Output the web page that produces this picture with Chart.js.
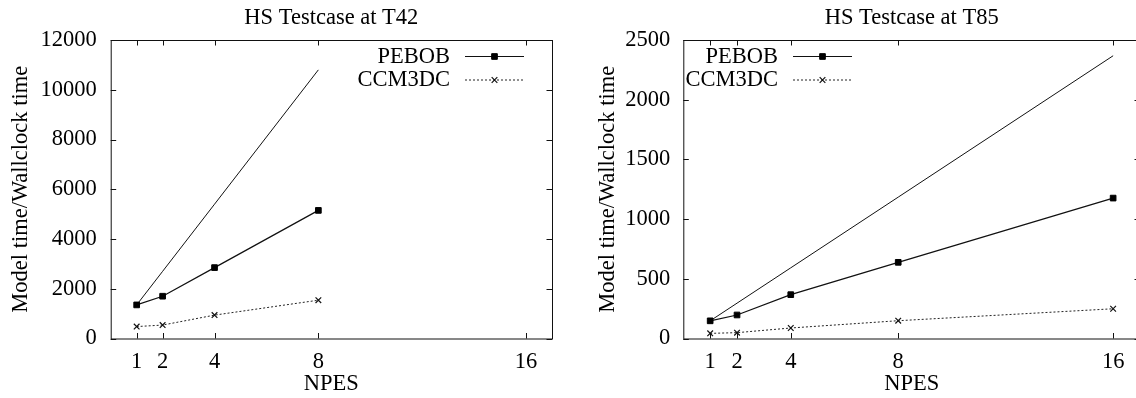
<!DOCTYPE html>
<html>
<head>
<meta charset="utf-8">
<script src="https://cdn.jsdelivr.net/npm/chart.js@4.4.1/dist/chart.umd.min.js"></script>
<style>
  html, body { margin: 0; padding: 0; background: #fff; overflow: hidden; width: 1136px; height: 398px; }
  .wrap { position: absolute; top: 0; height: 398px; }
  #w42 { left: 0; width: 568px; }
  #w85 { left: 580px; width: 576px; }
</style>
</head>
<body>
<div class="wrap" id="w42"><canvas id="chart-t42" width="568" height="398"></canvas></div>
<div class="wrap" id="w85"><canvas id="chart-t85" width="576" height="398"></canvas></div>
<script>
// values
const npesT42   = [1, 2, 4, 8];
const pebobT42  = [1350, 1700, 2850, 5150];
const ccm3dcT42 = [480, 540, 940, 1540];
const idealT42  = [1350, 2700, 5400, 10800];

const npesT85   = [1, 2, 4, 8, 16];
const pebobT85  = [148, 197, 367, 638, 1176];
const ccm3dcT85 = [43, 49, 88, 149, 249];
const idealT85  = [148, 296, 592, 1184, 2368];

const xTickValues = [1, 2, 4, 8, 16];

const FONT = "'Liberation Serif', 'Times New Roman', serif";
const FS = 22.5;

// gnuplot-ish frame with inward ticks on all four sides
const framePlugin = {
    id: "frame",
    afterDraw(chart) {
        const { ctx, chartArea: a, scales } = chart;
        const len = 5.5;
        ctx.save();
        ctx.strokeStyle = "#111";
        ctx.lineWidth = 1;
        ctx.strokeRect(a.left + 0.5, a.top + 0.5, a.right - a.left, a.bottom - a.top);
        ctx.beginPath();
        scales.x.ticks.forEach(t => {
            const px = Math.round(scales.x.getPixelForValue(t.value)) + 0.5;
            ctx.moveTo(px, a.bottom); ctx.lineTo(px, a.bottom - len);
            ctx.moveTo(px, a.top); ctx.lineTo(px, a.top + len);
        });
        scales.y.ticks.forEach(t => {
            const py = Math.round(scales.y.getPixelForValue(t.value)) + 0.5;
            ctx.moveTo(a.left, py); ctx.lineTo(a.left + len, py);
            ctx.moveTo(a.right, py); ctx.lineTo(a.right - len, py);
        });
        ctx.stroke();
        ctx.restore();
    },
};

// plot title centred over the plot area (gnuplot style)
const plotTitlePlugin = {
    id: "plotTitle",
    afterDraw(chart, args, opts) {
        const { ctx, chartArea: a } = chart;
        ctx.save();
        ctx.font = FS + "px " + FONT;
        ctx.fillStyle = "#000";
        ctx.textAlign = "center";
        ctx.textBaseline = "middle";
        ctx.fillText(opts.text, (a.left + a.right) / 2, opts.y);
        ctx.restore();
    },
};

// key drawn inside the plot area like gnuplot does
const keyPlugin = {
    id: "key",
    afterDraw(chart, args, opts) {
        const { ctx, chartArea: a } = chart;
        const textX = opts.side === "right" ? a.right - opts.fromEdge : a.left + opts.fromEdge;
        ctx.save();
        ctx.font = FS + "px " + FONT;
        ctx.textAlign = "right";
        ctx.textBaseline = "middle";
        chart.data.datasets.forEach(ds => {
            if (!ds.label) return;
            const y = a.top + opts.rows[ds.keyRow];
            ctx.fillStyle = "#000";
            ctx.fillText(ds.label, textX, y + 1);
            const x0 = textX + 15, x1 = textX + 74;
            ctx.save();
            ctx.strokeStyle = ds.borderColor;
            ctx.lineWidth = ds.borderWidth;
            ctx.setLineDash(ds.borderDash || []);
            ctx.beginPath();
            ctx.moveTo(x0, y + 0.5); ctx.lineTo(x1, y + 0.5);
            ctx.stroke();
            ctx.restore();
            ctx.fillStyle = ds.pointBackgroundColor;
            ctx.strokeStyle = ds.pointBorderColor;
            ctx.lineWidth = ds.pointBorderWidth;
            Chart.helpers.drawPoint(ctx, {
                pointStyle: ds.pointStyle,
                radius: ds.pointRadius,
                borderWidth: ds.pointBorderWidth,
                rotation: 0,
            }, (x0 + x1) / 2, y + 0.5);
        });
        ctx.restore();
    },
};

function makeData(npes, pebob, ccm3dc, ideal) {
    return {
        datasets: [
            {
                label: "PEBOB",
                keyRow: 0,
                data: npes.map((n, i) => ({ x: n, y: pebob[i] })),
                borderColor: "#111",
                borderWidth: 1.2,
                pointStyle: "rect",
                pointRadius: 4,
                pointBackgroundColor: "#000",
                pointBorderColor: "#000",
                pointBorderWidth: 1,
            },
            {
                label: "CCM3DC",
                keyRow: 1,
                data: npes.map((n, i) => ({ x: n, y: ccm3dc[i] })),
                borderColor: "#222",
                borderWidth: 1,
                borderDash: [2, 2],
                pointStyle: "crossRot",
                pointRadius: 4,
                pointBackgroundColor: "#000",
                pointBorderColor: "#111",
                pointBorderWidth: 1.2,
            },
            {
                label: "",
                data: npes.map((n, i) => ({ x: n, y: ideal[i] })),
                borderColor: "#111",
                borderWidth: 1,
                pointRadius: 0,
            },
        ],
    };
}

function makeOptions(cfg) {
    return {
        responsive: false,
        animation: false,
        devicePixelRatio: 1,
        layout: { padding: { left: 0, right: 16, top: 40, bottom: 0 } },
        plugins: {
            legend: { display: false },
            tooltip: { enabled: false },
            title: { display: false },
            plotTitle: { text: cfg.title, y: 18.5 },
            key: cfg.key,
        },
        scales: {
            x: {
                type: "linear",
                min: 0,
                max: 17,
                grid: { display: false, drawTicks: false },
                border: { display: false },
                afterBuildTicks: s => { s.ticks = xTickValues.map(v => ({ value: v })); },
                afterFit: s => { s.height = 59.5; },
                ticks: {
                    color: "#000",
                    padding: 10,
                    maxRotation: 0,
                    callback: v => String(v),
                    font: { family: FONT, size: FS, lineHeight: 1.2 },
                },
                title: {
                    display: true,
                    text: "NPES",
                    color: "#000",
                    font: { family: FONT, size: FS, lineHeight: 1.2 },
                    padding: { top: 0, bottom: 0 },
                },
            },
            y: {
                min: 0,
                max: cfg.yMax,
                grid: { display: false, drawTicks: false },
                border: { display: false },
                afterFit: s => { s.width = cfg.yWidth; },
                ticks: {
                    stepSize: cfg.yStep,
                    color: "#000",
                    padding: cfg.tickPad,
                    callback: v => String(v),
                    font: { family: FONT, size: FS, lineHeight: 1.2 },
                },
                title: {
                    display: true,
                    text: "Model time/Wallclock time",
                    color: "#000",
                    font: { family: FONT, size: FS, lineHeight: 1.2 },
                    padding: { top: cfg.titlePad, bottom: 0 },
                },
            },
        },
    };
}

new Chart(document.getElementById("chart-t42"), {
    type: "line",
    data: makeData(npesT42, pebobT42, ccm3dcT42, idealT42),
    options: makeOptions({
        title: "HS Testcase at T42",
        yMax: 12000, yStep: 2000, yWidth: 110.7, tickPad: 14, titlePad: 7.5,
        key: { side: "right", fromEdge: 102, rows: [16, 39.5] },
    }),
    plugins: [framePlugin, plotTitlePlugin, keyPlugin],
});

new Chart(document.getElementById("chart-t85"), {
    type: "line",
    data: makeData(npesT85, pebobT85, ccm3dcT85, idealT85),
    options: makeOptions({
        title: "HS Testcase at T85",
        yMax: 2500, yStep: 500, yWidth: 103.3, tickPad: 13, titlePad: 14.5,
        key: { side: "left", fromEdge: 94.7, rows: [16, 39.5] },
    }),
    plugins: [framePlugin, plotTitlePlugin, keyPlugin],
});
</script>
</body>
</html>
